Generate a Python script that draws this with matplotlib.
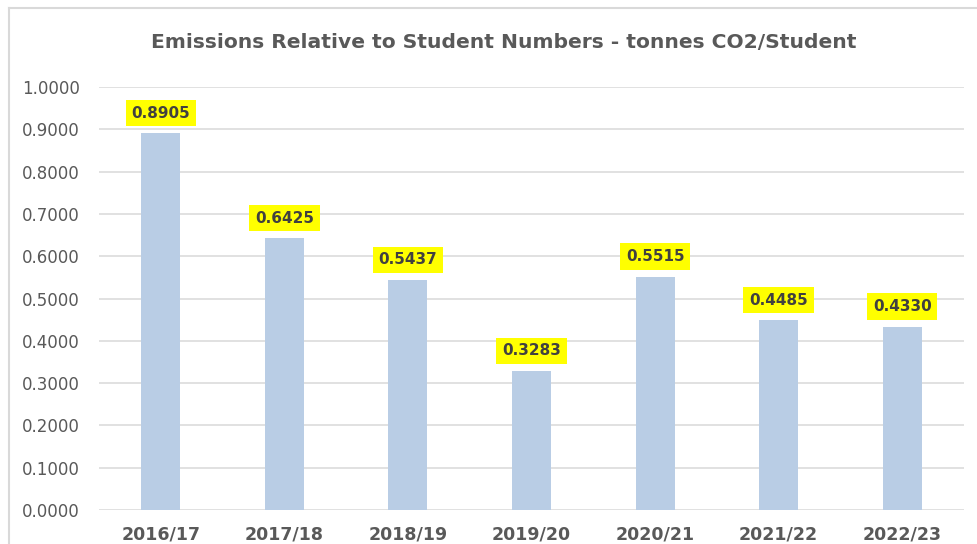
import matplotlib.pyplot as plt
from matplotlib.lines import Line2D

years = ['2016/17', '2017/18', '2018/19', '2019/20', '2020/21', '2021/22', '2022/23']
co2_per_student = [0.8905, 0.6425, 0.5437, 0.3283, 0.5515, 0.4485, 0.4330]
y_ticks = [0.0, 0.1, 0.2, 0.3, 0.4, 0.5, 0.6, 0.7, 0.8, 0.9, 1.0]

plt.rcParams['font.family'] = ['DejaVu Sans']
text_grey = '#595959'

fig = plt.figure(figsize=(9.78, 5.44), dpi=100)
ax = fig.add_axes([99 / 978, 1 - 510 / 544, (964 - 99) / 978, (510 - 87) / 544])

x = range(len(years))
ax.bar(x, co2_per_student, width=0.315, color='#B9CDE5', zorder=2)

for xi, v in zip(x, co2_per_student):
    ax.annotate(f'{v:.4f}', (xi, v), xytext=(0, 14.5), textcoords='offset points',
                ha='center', va='center', fontsize=11, fontweight='bold', color='#404040',
                bbox=dict(boxstyle='square,pad=0.38', fc='#FFFF00', ec='none'), zorder=3)

ax.set_xlim(-0.5, len(years) - 0.5)
ax.set_ylim(0, 1.0)
ax.set_yticks(y_ticks)
ax.set_yticklabels([f'{t:.4f}' for t in y_ticks], fontsize=12, color=text_grey)
ax.set_xticks(list(x))
ax.set_xticklabels(years, fontsize=12.5, fontweight='bold', color=text_grey)
ax.tick_params(axis='both', length=0)
ax.tick_params(axis='y', pad=14)
ax.tick_params(axis='x', pad=11)
ax.grid(axis='y', color='#D9D9D9', linewidth=1.1, zorder=0)
for s in ax.spines.values():
    s.set_visible(False)

fig.text(504 / 978, 1 - 42 / 544, 'Emissions Relative to Student Numbers - tonnes CO2/Student',
         ha='center', va='center', fontsize=14.6, fontweight='bold', color=text_grey)

# chart frame (clipped at right and bottom in the original screenshot)
fig.add_artist(Line2D([9 / 978, 1], [1 - 8 / 544] * 2, color='#D9D9D9', linewidth=1.5))
fig.add_artist(Line2D([9 / 978] * 2, [0, 1 - 8 / 544], color='#D9D9D9', linewidth=1.5))

fig.savefig('out.png', dpi=100)
